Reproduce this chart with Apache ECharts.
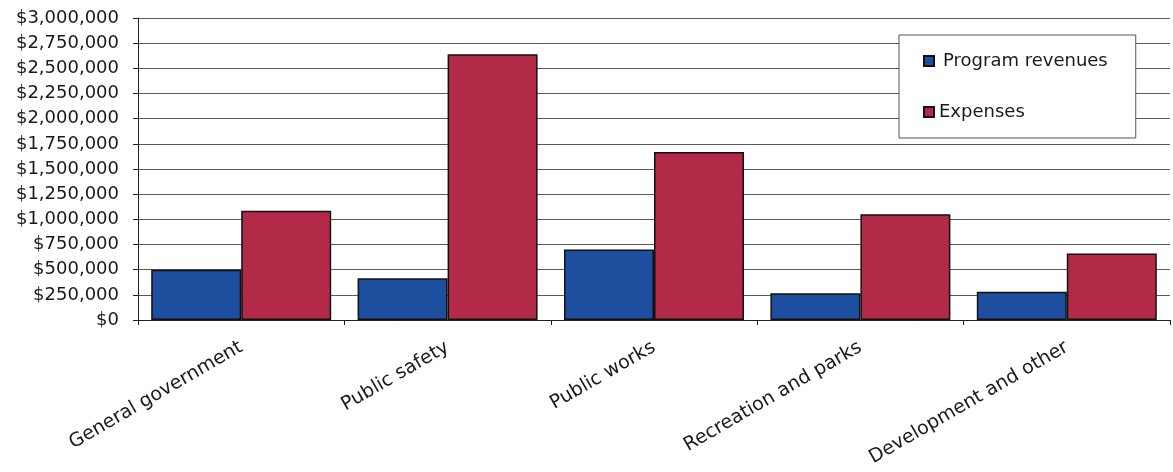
<!DOCTYPE html>
<html>
<head>
<meta charset="utf-8">
<script src="https://cdn.jsdelivr.net/npm/echarts@6/dist/echarts.min.js"></script>
<style>
html,body{margin:0;padding:0;background:#fff;}
#chart{width:1173px;height:472px;}
</style>
</head>
<body>
<div id="chart"></div>
<script>
var categories = ['General government', 'Public safety', 'Public works', 'Recreation and parks', 'Development and other'];
var programRevenues = [500000, 415000, 700000, 265000, 280000];
var expenses = [1085000, 2640000, 1670000, 1050000, 660000];
var yTicks = { min: 0, max: 3000000, interval: 250000 };

var FONT = 'DejaVu Sans';
var chart = echarts.init(document.getElementById('chart'));
chart.setOption({
  animation: false,
  backgroundColor: '#ffffff',
  textStyle: { fontFamily: FONT, color: '#1a1a1a' },
  grid: { left: 138, right: 3, top: 18, bottom: 152, containLabel: false },
  legend: {
    orient: 'vertical',
    left: 899,
    top: 35,
    backgroundColor: '#ffffff',
    borderColor: '#555555',
    borderWidth: 1,
    borderRadius: 0,
    padding: [17, 28, 17, 24],
    itemGap: 33,
    itemWidth: 10,
    itemHeight: 10,
    icon: 'rect',
    textStyle: { fontFamily: FONT, fontSize: 18, color: '#1a1a1a' },
    data: [
      { name: 'Program revenues', textStyle: { padding: [0, 0, 0, 4] } },
      { name: 'Expenses' }
    ]
  },
  xAxis: {
    type: 'category',
    data: categories,
    boundaryGap: true,
    axisLine: { show: true, lineStyle: { color: '#222', width: 1 } },
    axisTick: { show: true, length: 5, inside: false, alignWithLabel: false, lineStyle: { color: '#222' } },
    axisLabel: {
      interval: 0,
      rotate: 30,
      margin: 26,
      fontFamily: FONT,
      fontSize: 19,
      color: '#1a1a1a'
    },
    splitLine: { show: false }
  },
  yAxis: {
    type: 'value',
    min: yTicks.min,
    max: yTicks.max,
    interval: yTicks.interval,
    axisLine: { show: true, lineStyle: { color: '#222', width: 1 } },
    axisTick: { show: true, length: 5, lineStyle: { color: '#222' } },
    axisLabel: {
      margin: 19,
      fontFamily: FONT,
      fontSize: 18,
      color: '#1a1a1a',
      formatter: function (v) {
        return '$' + v.toString().replace(/\B(?=(\d{3})+(?!\d))/g, ',');
      }
    },
    splitLine: { show: true, lineStyle: { color: '#5a5a5a', width: 1 } }
  },
  series: [
    {
      name: 'Program revenues',
      type: 'bar',
      data: programRevenues,
      barGap: '0%',
      barCategoryGap: '12.8%',
      itemStyle: { color: '#1d4f9e', borderColor: '#111', borderWidth: 1.5 }
    },
    {
      name: 'Expenses',
      type: 'bar',
      data: expenses,
      barGap: '0%',
      barCategoryGap: '12.8%',
      itemStyle: { color: '#b22a48', borderColor: '#111', borderWidth: 1.5 }
    }
  ]
});
</script>
</body>
</html>
